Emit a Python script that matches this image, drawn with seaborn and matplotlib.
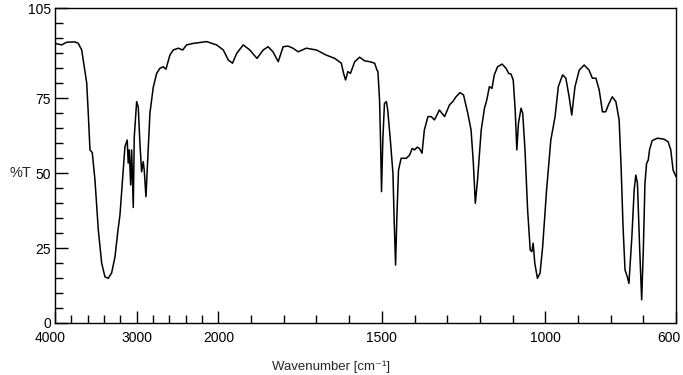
import numpy as np
import pandas as pd
import matplotlib
matplotlib.use("Agg")
import matplotlib.pyplot as plt
import matplotlib.transforms as mtransforms
import seaborn as sns

# IR spectrum: wavenumber [cm-1] and %T
wavenumber = [4000, 3918, 3857, 3755, 3715, 3673, 3642, 3612, 3593, 3572,
              3544, 3511, 3470, 3429, 3389, 3348, 3307, 3266, 3229, 3205,
              3165, 3144, 3116, 3104, 3091, 3074, 3062, 3042, 3030, 3001,
              2981, 2961, 2940, 2920, 2908, 2887, 2866, 2838, 2798, 2756,
              2716, 2675, 2642, 2594, 2553, 2492, 2438, 2389, 2309, 2145,
              2023, 1985, 1970, 1957, 1944, 1924, 1904, 1882, 1863, 1848,
              1833, 1817, 1802, 1787, 1772, 1756, 1731, 1700, 1670, 1644,
              1624, 1617, 1611, 1604, 1596, 1583, 1568, 1553, 1537, 1522,
              1515, 1512, 1507, 1504, 1501, 1497, 1492, 1486, 1482, 1474,
              1466, 1462, 1458, 1454, 1449, 1441, 1425, 1415, 1407, 1400,
              1392, 1385, 1377, 1370, 1359, 1349, 1339, 1324, 1308, 1293,
              1283, 1273, 1261, 1250, 1237, 1227, 1220, 1214, 1207, 1196,
              1186, 1179, 1171, 1163, 1156, 1146, 1132, 1120, 1112, 1105,
              1098, 1092, 1087, 1082, 1074, 1069, 1062, 1054, 1046, 1041,
              1037, 1032, 1024, 1016, 1008, 996, 983, 970, 960, 947,
              937, 927, 919, 909, 896, 881, 866, 856, 845, 835,
              825, 815, 807, 795, 784, 774, 768, 762, 756, 749,
              744, 735, 728, 723, 718, 711, 705, 700, 695, 690,
              685, 681, 673, 657, 637, 624, 616, 609, 600]
transmittance = [93.2, 92.7, 93.6, 93.7, 93.2, 91.0, 85.4, 80.0, 70.0, 57.7,
                 56.8, 47.7, 31.0, 20.0, 15.4, 14.9, 16.7, 22.0, 31.0, 36.0,
                 51.0, 58.8, 61.0, 53.3, 57.7, 46.0, 57.7, 38.5, 62.0, 73.8,
                 72.0, 60.0, 50.4, 53.8, 51.0, 42.1, 54.3, 70.0, 78.5, 83.2,
                 84.9, 85.4, 84.6, 89.3, 91.0, 91.6, 91.0, 92.7, 93.2, 93.8,
                 92.7, 91.0, 87.7, 86.6, 89.9, 92.7, 91.0, 88.2, 91.0, 92.1,
                 90.4, 87.1, 92.1, 92.3, 91.6, 90.4, 91.6, 91.0, 89.3, 88.2,
                 86.6, 83.2, 81.0, 83.8, 83.2, 87.1, 88.6, 87.4, 87.1, 86.6,
                 84.3, 83.8, 74.3, 61.0, 43.8, 61.0, 73.2, 73.8, 71.0, 61.0,
                 49.9, 33.2, 19.3, 35.4, 51.0, 54.9, 54.9, 56.0, 58.2, 57.7,
                 58.6, 58.2, 56.6, 64.3, 68.8, 68.8, 67.7, 71.0, 68.8, 72.7,
                 73.8, 75.4, 76.8, 76.0, 69.9, 64.3, 53.2, 39.9, 48.0, 64.3,
                 71.6, 74.3, 78.8, 78.2, 82.7, 85.4, 86.3, 84.9, 83.2, 83.0,
                 81.0, 71.0, 57.7, 66.6, 71.6, 69.9, 57.7, 37.7, 24.3, 23.8,
                 26.6, 19.9, 14.9, 16.6, 25.4, 44.3, 61.0, 68.8, 78.8, 82.7,
                 81.6, 75.4, 69.3, 78.8, 84.3, 86.0, 84.3, 81.6, 81.6, 77.7,
                 70.4, 70.4, 72.7, 75.4, 73.8, 67.7, 52.1, 32.1, 17.7, 15.4,
                 13.2, 28.8, 44.3, 49.3, 46.6, 24.3, 7.7, 24.3, 46.6, 53.2,
                 54.3, 57.7, 60.8, 61.6, 61.3, 60.4, 57.7, 51.0, 48.8]

x_major = [4000, 3000, 2000, 1500, 1000, 600]
x_minor = [3800, 3600, 3400, 3200, 2800, 2600, 2400, 2200,
           1900, 1800, 1700, 1600, 1400, 1300, 1200, 1100, 900, 800, 700]
y_major = [0, 25, 50, 75, 105]
y_minor = [5, 10, 15, 20, 30, 35, 40, 45, 55, 60, 65, 70, 80, 85, 90, 95, 100]


# axis is compressed 4x above 2000 cm-1
def fwd(x):
    x = np.asarray(x, dtype=float)
    return np.where(x >= 2000, 2000 + (x - 2000) / 4.0, x)


def inv(y):
    y = np.asarray(y, dtype=float)
    return np.where(y >= 2000, 2000 + (y - 2000) * 4.0, y)


sns.set_style("ticks")
plt.rcParams["font.family"] = ["Liberation Sans", "DejaVu Sans"]

df = pd.DataFrame({"wn": wavenumber, "T": transmittance})

fig = plt.figure(figsize=(6.83, 3.75), dpi=100)
ax = fig.add_axes([55 / 683, 52 / 375, 621 / 683, 315 / 375])

sns.lineplot(data=df, x="wn", y="T", color="black", linewidth=1.1,
             estimator=None, sort=False, ax=ax)

ax.set_xscale("function", functions=(fwd, inv))
ax.set_xlim(4000, 600)
ax.set_ylim(0, 105)

ax.set_xticks(x_major)
ax.set_xticklabels([str(v) for v in x_major])
ax.set_xticks(x_minor, minor=True)
ax.set_yticks(y_major)
ax.set_yticklabels([str(v) for v in y_major])
ax.set_yticks(y_minor, minor=True)

ax.tick_params(which="both", direction="in", width=1.0, colors="black",
               labelsize=10)
ax.tick_params(which="major", length=9)
ax.tick_params(which="minor", length=6)
ax.tick_params(axis="x", which="both", pad=6)
ax.tick_params(axis="y", which="both", pad=3)

# nudge the end labels so they stay inside the figure, as in the original
labels = ax.get_xticklabels()
labels[0].set_transform(labels[0].get_transform() +
                        mtransforms.ScaledTranslation(-5 / 100, 0, fig.dpi_scale_trans))
labels[-1].set_transform(labels[-1].get_transform() +
                         mtransforms.ScaledTranslation(-7 / 100, 0, fig.dpi_scale_trans))

for side in ["top", "right", "left", "bottom"]:
    ax.spines[side].set_visible(True)
    ax.spines[side].set_linewidth(1.0)
    ax.spines[side].set_color("black")

ax.set_ylabel("%T", rotation=0, fontsize=10.5, ha="right", va="center")
ax.yaxis.set_label_coords(-0.038, 50 / 105)
ax.set_xlabel("Wavenumber [cm⁻¹]", fontsize=9.5)
ax.xaxis.set_label_coords(0.444, -0.12)

fig.savefig("out.png", dpi=100)
